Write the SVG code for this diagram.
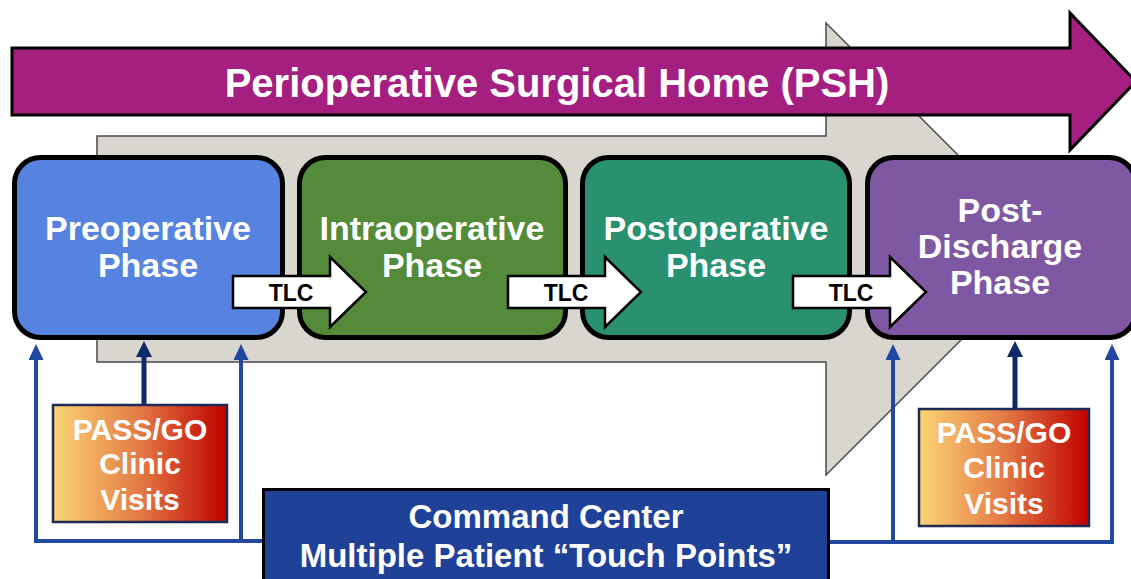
<svg xmlns="http://www.w3.org/2000/svg" width="1131" height="579" viewBox="0 0 1131 579">
  <style>
    .lbl { font-family: "Liberation Sans", Arial, sans-serif; font-weight: bold; fill: #ffffff; text-anchor: middle; }
    .phase { font-size: 34px; }
    .tlc { font-family: "Liberation Sans", Arial, sans-serif; font-weight: bold; font-size: 23px; fill: #000000; text-anchor: middle; }
    .pass { font-size: 30px; }
    .cmd { font-size: 33px; }
    .box { stroke: #000000; stroke-width: 5; }
    .tlcArrow { fill: #ffffff; stroke: #000000; stroke-width: 2.5; stroke-linejoin: miter; }
    .link { fill: none; stroke: #2147a0; stroke-width: 4; }
    .feed { fill: none; stroke: #0e2a68; stroke-width: 5; }
    .clinic { stroke: #1c2a55; stroke-width: 2.5; }
  </style>
  <defs>
    <linearGradient id="clinicFill" x1="0" y1="0" x2="1" y2="0">
      <stop offset="0" stop-color="#fcd574"/>
      <stop offset="0.5" stop-color="#e37a45"/>
      <stop offset="1" stop-color="#c00000"/>
    </linearGradient>
    <marker id="headBlue" viewBox="0 0 16 15" refX="8" refY="7.5" markerWidth="16" markerHeight="15" markerUnits="userSpaceOnUse" orient="auto">
      <path d="M0,0 L16,7.5 L0,15 Z" fill="#2147a0"/>
    </marker>
    <marker id="headNavy" viewBox="0 0 16 16" refX="8" refY="8" markerWidth="16" markerHeight="16" markerUnits="userSpaceOnUse" orient="auto">
      <path d="M0,0 L16,8 L0,16 Z" fill="#0e2a68"/>
    </marker>
  </defs>

  <!-- large grey process arrow in the background -->
  <g id="process-arrow">
    <path d="M97,136 H826 V23 L1052,249 L826,475 V362 H97 Z" fill="#d9d6cf" stroke="#4a4a4a" stroke-width="1.5"/>
  </g>

  <!-- PSH banner arrow -->
  <g id="psh">
    <path d="M12,48 H1070 V13 L1136,81.5 L1070,150 V115 H12 Z" fill="#a51f81" stroke="#000000" stroke-width="3"/>
    <text class="lbl" x="557" y="97" font-size="40">Perioperative Surgical Home (PSH)</text>
  </g>

  <!-- phase boxes -->
  <g id="preoperative">
    <rect class="box" x="14.5" y="157.5" width="268" height="180" rx="26" fill="#5683df"/>
    <text class="lbl phase" x="148" y="240">Preoperative</text>
    <text class="lbl phase" x="148" y="277">Phase</text>
  </g>
  <g id="intraoperative">
    <rect class="box" x="299.5" y="157.5" width="266" height="180" rx="26" fill="#538b3a"/>
    <text class="lbl phase" x="432" y="240">Intraoperative</text>
    <text class="lbl phase" x="432" y="277">Phase</text>
  </g>
  <g id="postoperative">
    <rect class="box" x="582.5" y="157.5" width="267" height="180" rx="26" fill="#2a9170"/>
    <text class="lbl phase" x="716" y="240">Postoperative</text>
    <text class="lbl phase" x="716" y="277">Phase</text>
  </g>
  <g id="post-discharge">
    <rect class="box" x="867.5" y="157.5" width="268" height="180" rx="26" fill="#7f58a4"/>
    <text class="lbl phase" x="1000" y="222">Post-</text>
    <text class="lbl phase" x="1000" y="258">Discharge</text>
    <text class="lbl phase" x="1000" y="294">Phase</text>
  </g>

  <!-- TLC hand-off arrows between phases -->
  <g id="tlc-1">
    <path class="tlcArrow" d="M233,276 H330 V257 L366,292 L330,327 V308 H233 Z"/>
    <text class="tlc" x="291" y="301">TLC</text>
  </g>
  <g id="tlc-2">
    <path class="tlcArrow" d="M508,276 H605 V257 L641,292 L605,327 V308 H508 Z"/>
    <text class="tlc" x="566" y="301">TLC</text>
  </g>
  <g id="tlc-3">
    <path class="tlcArrow" d="M793,276 H890 V257 L926,292 L890,327 V308 H793 Z"/>
    <text class="tlc" x="851" y="301">TLC</text>
  </g>

  <!-- connectors -->
  <g id="connectors">
    <path class="link" d="M262,541 H36 V352" marker-end="url(#headBlue)"/>
    <path class="link" d="M241,541 V352" marker-end="url(#headBlue)"/>
    <path class="feed" d="M144,405 V349" marker-end="url(#headNavy)"/>
    <path class="link" d="M830,542 H1112 V352" marker-end="url(#headBlue)"/>
    <path class="link" d="M893,542 V352" marker-end="url(#headBlue)"/>
    <path class="feed" d="M1015,409 V349" marker-end="url(#headNavy)"/>
  </g>

  <!-- clinic visit boxes -->
  <g id="clinic-pre">
    <rect class="clinic" x="53" y="405" width="174" height="117" fill="url(#clinicFill)"/>
    <text class="lbl pass" x="140" y="440">PASS/GO</text>
    <text class="lbl pass" x="140" y="474">Clinic</text>
    <text class="lbl pass" x="140" y="510">Visits</text>
  </g>
  <g id="clinic-post">
    <rect class="clinic" x="919" y="409" width="170" height="117" fill="url(#clinicFill)"/>
    <text class="lbl pass" x="1004" y="443">PASS/GO</text>
    <text class="lbl pass" x="1004" y="478">Clinic</text>
    <text class="lbl pass" x="1004" y="514">Visits</text>
  </g>

  <!-- command center -->
  <g id="command-center">
    <rect x="263.5" y="489.5" width="565" height="100" fill="#1f4197" stroke="#000000" stroke-width="3"/>
    <text class="lbl cmd" x="546" y="528">Command Center</text>
    <text class="lbl cmd" x="546" y="567">Multiple Patient “Touch Points”</text>
  </g>
</svg>
